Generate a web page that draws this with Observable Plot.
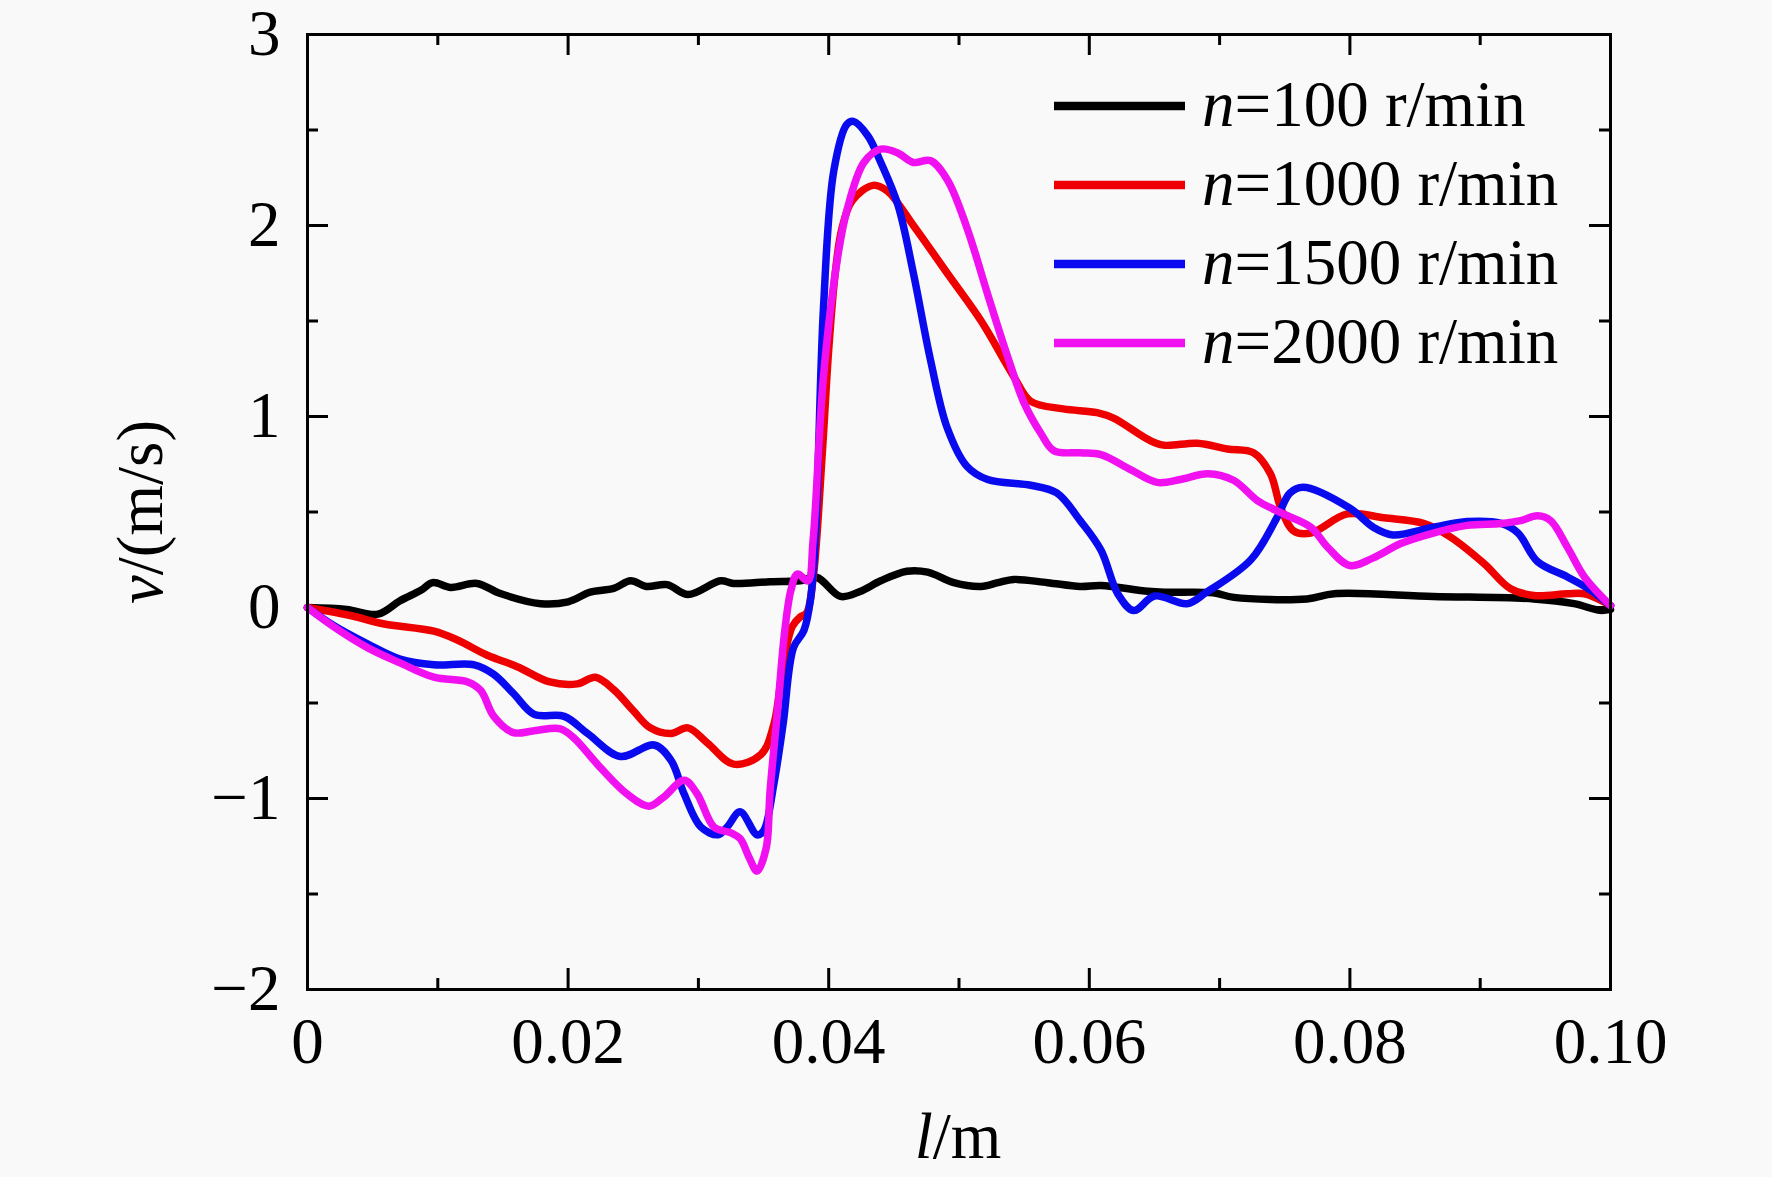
<!DOCTYPE html>
<html><head><meta charset="utf-8">
<script src="https://cdn.jsdelivr.net/npm/d3@7"></script>
<script src="https://cdn.jsdelivr.net/npm/@observablehq/plot@0.6"></script>
<style>
html,body{margin:0;padding:0;background:#f9f9f9;}
svg{display:block;}
</style></head><body>
<div id="chart"></div>
<script>
const speeds = [100, 1000, 1500, 2000];
const seriesColors = ["#000000", "#ee0000", "#0a0aee", "#f010f0"];

const xTicks = [0, 0.02, 0.04, 0.06, 0.08, 0.10];
const xTickLabels = ["0", "0.02", "0.04", "0.06", "0.08", "0.10"];
const xMinorTicks = [0.01, 0.03, 0.05, 0.07, 0.09];
const yTicks = [-2, -1, 0, 1, 2, 3];
const yTickLabels = ["\u22122", "\u22121", "0", "1", "2", "3"];
const yMinorTicks = [-1.5, -0.5, 0.5, 1.5, 2.5];

// n = 100 r/min
const l100 = [0, 0.003, 0.0054, 0.0071, 0.0087, 0.0096, 0.011, 0.013, 0.0148, 0.0179, 0.020, 0.0217, 0.0235, 0.0248, 0.026, 0.0276, 0.0292, 0.0317, 0.0327, 0.0355, 0.0378, 0.0391, 0.0409, 0.0424, 0.044, 0.046, 0.0476, 0.0496, 0.0517, 0.053, 0.0542, 0.0568, 0.0593, 0.0609, 0.0645, 0.066, 0.0695, 0.0711, 0.0767, 0.0788, 0.0864, 0.0941, 0.0972, 0.0992, 0.1];
const v100 = [0, -0.01, -0.035, 0.035, 0.09, 0.13, 0.105, 0.126, 0.073, 0.02, 0.03, 0.08, 0.1, 0.14, 0.11, 0.12, 0.068, 0.14, 0.126, 0.135, 0.14, 0.157, 0.058, 0.084, 0.14, 0.19, 0.185, 0.13, 0.11, 0.13, 0.147, 0.13, 0.11, 0.115, 0.085, 0.08, 0.077, 0.053, 0.045, 0.072, 0.058, 0.045, 0.02, -0.015, -0.01];

// n = 1000 r/min
const l1000 = [0, 0.0033, 0.0058, 0.0097, 0.0115, 0.0138, 0.0161, 0.0186, 0.0207, 0.0221, 0.0235, 0.025, 0.0263, 0.0279, 0.0292, 0.0307, 0.0327, 0.0348, 0.0358, 0.0365, 0.0372, 0.0378, 0.0383, 0.0388, 0.0395, 0.040, 0.0405, 0.041, 0.0418, 0.0434, 0.0445, 0.0465, 0.0491, 0.0517, 0.0542, 0.0555, 0.058, 0.0606, 0.0619, 0.0645, 0.0657, 0.0683, 0.0706, 0.0726, 0.0739, 0.0747, 0.0757, 0.077, 0.0798, 0.0826, 0.0857, 0.0877, 0.0903, 0.0923, 0.0941, 0.0967, 0.098, 0.0995, 0.1];
const v1000 = [0, -0.042, -0.085, -0.124, -0.17, -0.25, -0.31, -0.39, -0.40, -0.365, -0.43, -0.54, -0.63, -0.66, -0.63, -0.71, -0.82, -0.77, -0.61, -0.30, -0.1, -0.05, -0.03, 0.15, 0.8, 1.35, 1.75, 1.98, 2.13, 2.21, 2.18, 2.0, 1.75, 1.50, 1.21, 1.08, 1.04, 1.02, 0.99, 0.88, 0.85, 0.86, 0.83, 0.81, 0.70, 0.52, 0.40, 0.39, 0.49, 0.47, 0.44, 0.37, 0.23, 0.10, 0.063, 0.072, 0.072, 0.03, 0.01];

// n = 1500 r/min
const l1500 = [0, 0.002, 0.0046, 0.0071, 0.0097, 0.0128, 0.0143, 0.0158, 0.0174, 0.0197, 0.0215, 0.024, 0.0266, 0.0279, 0.0289, 0.0302, 0.0315, 0.0322, 0.0332, 0.0345, 0.035, 0.0358, 0.0365, 0.0373, 0.0381, 0.0386, 0.039, 0.0396, 0.0404, 0.0414, 0.0419, 0.043, 0.044, 0.0453, 0.0465, 0.0478, 0.0491, 0.0506, 0.0522, 0.0555, 0.0575, 0.0593, 0.0609, 0.0622, 0.0634, 0.065, 0.0675, 0.069, 0.0724, 0.0744, 0.0754, 0.0764, 0.08, 0.0818, 0.0833, 0.0864, 0.089, 0.0916, 0.0929, 0.0944, 0.0967, 0.0985, 0.1];
const v1500 = [0, -0.094, -0.19, -0.27, -0.30, -0.30, -0.35, -0.45, -0.56, -0.57, -0.66, -0.78, -0.72, -0.80, -0.975, -1.15, -1.19, -1.15, -1.07, -1.19, -1.17, -0.92, -0.61, -0.21, -0.12, 0.04, 0.40, 1.57, 2.29, 2.53, 2.545, 2.47, 2.33, 2.11, 1.75, 1.30, 0.94, 0.74, 0.67, 0.64, 0.60, 0.455, 0.30, 0.07, -0.016, 0.06, 0.02, 0.08, 0.25, 0.47, 0.60, 0.63, 0.52, 0.42, 0.38, 0.42, 0.45, 0.44, 0.39, 0.24, 0.16, 0.09, 0.01];

// n = 2000 r/min
const l2000 = [0, 0.002, 0.0046, 0.0071, 0.0097, 0.0123, 0.0133, 0.0143, 0.0158, 0.0174, 0.0194, 0.0204, 0.0225, 0.0245, 0.0262, 0.0273, 0.0289, 0.0299, 0.0312, 0.0325, 0.0332, 0.0339, 0.0345, 0.0352, 0.0355, 0.0361, 0.0366, 0.0371, 0.0376, 0.0384, 0.0388, 0.0396, 0.0407, 0.0414, 0.0427, 0.044, 0.0453, 0.0465, 0.0478, 0.0491, 0.0506, 0.0522, 0.0537, 0.055, 0.0563, 0.0573, 0.0593, 0.0609, 0.0632, 0.0652, 0.067, 0.0691, 0.0711, 0.0729, 0.0749, 0.077, 0.0783, 0.08, 0.0818, 0.0839, 0.0864, 0.089, 0.0916, 0.0931, 0.0944, 0.0954, 0.0967, 0.098, 0.1];
const v2000 = [0, -0.10, -0.21, -0.29, -0.365, -0.39, -0.435, -0.57, -0.655, -0.645, -0.635, -0.68, -0.84, -0.975, -1.04, -0.995, -0.905, -0.975, -1.15, -1.18, -1.21, -1.31, -1.38, -1.26, -0.96, -0.52, -0.14, 0.09, 0.175, 0.14, 0.35, 1.21, 1.84, 2.08, 2.33, 2.40, 2.38, 2.33, 2.34, 2.24, 1.99, 1.64, 1.32, 1.07, 0.91, 0.82, 0.81, 0.80, 0.72, 0.655, 0.67, 0.70, 0.665, 0.56, 0.49, 0.42, 0.315, 0.22, 0.26, 0.335, 0.39, 0.43, 0.44, 0.455, 0.48, 0.455, 0.315, 0.16, 0.01];

const seriesL = [l100, l1000, l1500, l2000];
const seriesV = [v100, v1000, v1500, v2000];
const seriesNames = speeds.map(s => `n=${s} r/min`);

const data = [];
seriesNames.forEach((name, k) => {
  seriesL[k].forEach((l, i) => data.push({series: name, l, v: seriesV[k][i]}));
});

const FONT = "'Liberation Serif', 'Times New Roman', Times, serif";
const FS = 65;
const xLab = new Map(xTicks.map((t, i) => [t, xTickLabels[i]]));
const yLab = new Map(yTicks.map((t, i) => [t, yTickLabels[i]]));
const tk = {stroke: "black", strokeWidth: 3};

const chart = Plot.plot({
  width: 1772, height: 1177,
  marginLeft: 307, marginRight: 162, marginTop: 34, marginBottom: 188,
  style: {background: "#f9f9f9", fontFamily: FONT, color: "black", overflow: "visible"},
  x: {domain: [0, 0.1], label: null},
  y: {domain: [-2, 3], label: null},
  color: {domain: seriesNames, range: seriesColors},
  marks: [
    // inward ticks, bottom and top
    Plot.ruleX(xTicks, {x: d => d, y1: -2, y2: -2, insetTop: -21, ...tk}),
    Plot.ruleX(xMinorTicks, {x: d => d, y1: -2, y2: -2, insetTop: -11, ...tk}),
    Plot.ruleX(xTicks, {x: d => d, y1: 3, y2: 3, insetBottom: -21, ...tk}),
    Plot.ruleX(xMinorTicks, {x: d => d, y1: 3, y2: 3, insetBottom: -11, ...tk}),
    // inward ticks, left and right
    Plot.ruleY(yTicks, {y: d => d, x1: 0, x2: 0, insetRight: -21, ...tk}),
    Plot.ruleY(yMinorTicks, {y: d => d, x1: 0, x2: 0, insetRight: -11, ...tk}),
    Plot.ruleY(yTicks, {y: d => d, x1: 0.1, x2: 0.1, insetLeft: -21, ...tk}),
    Plot.ruleY(yMinorTicks, {y: d => d, x1: 0.1, x2: 0.1, insetLeft: -11, ...tk}),
    Plot.line(data, {x: "l", y: "v", z: "series", stroke: "series", strokeWidth: 7.5, curve: "catmull-rom"}),
    Plot.frame({stroke: "black", strokeWidth: 3}),
    Plot.axisX({ticks: xTicks, tickSize: 0, tickPadding: 27, tickFormat: d => xLab.get(d), fontSize: FS, fontFamily: FONT, label: null}),
    Plot.axisY({ticks: yTicks, tickSize: 0, tickPadding: 27, tickFormat: d => yLab.get(d), fontSize: FS, fontFamily: FONT, label: null})
  ]
});
document.getElementById("chart").appendChild(chart);

const svg = d3.select(chart);
// axis titles
const xt = svg.append("text").attr("x", 958).attr("y", 1158).attr("text-anchor", "middle")
  .attr("font-family", FONT).attr("font-size", FS).attr("fill", "black");
xt.append("tspan").attr("font-style", "italic").text("l");
xt.append("tspan").text("/m");
const yt = svg.append("text").attr("transform", "translate(162,512) rotate(-90)").attr("text-anchor", "middle")
  .attr("font-family", FONT).attr("font-size", FS).attr("fill", "black");
yt.append("tspan").attr("font-style", "italic").text("v");
yt.append("tspan").text("/(m/s)");

// legend
const lg = svg.append("g").attr("font-family", FONT).attr("font-size", FS).attr("fill", "black")
  .attr("text-anchor", "start");
speeds.forEach((s, i) => {
  const y = 106 + i * 79;
  lg.append("line").attr("x1", 1054).attr("x2", 1185).attr("y1", y).attr("y2", y)
    .attr("stroke", seriesColors[i]).attr("stroke-width", 8.5);
  const t = lg.append("text").attr("x", 1202).attr("y", y + 20).attr("text-anchor", "start");
  t.append("tspan").attr("font-style", "italic").text("n");
  t.append("tspan").text("=" + s + " r/min");
});
</script>
</body></html>
